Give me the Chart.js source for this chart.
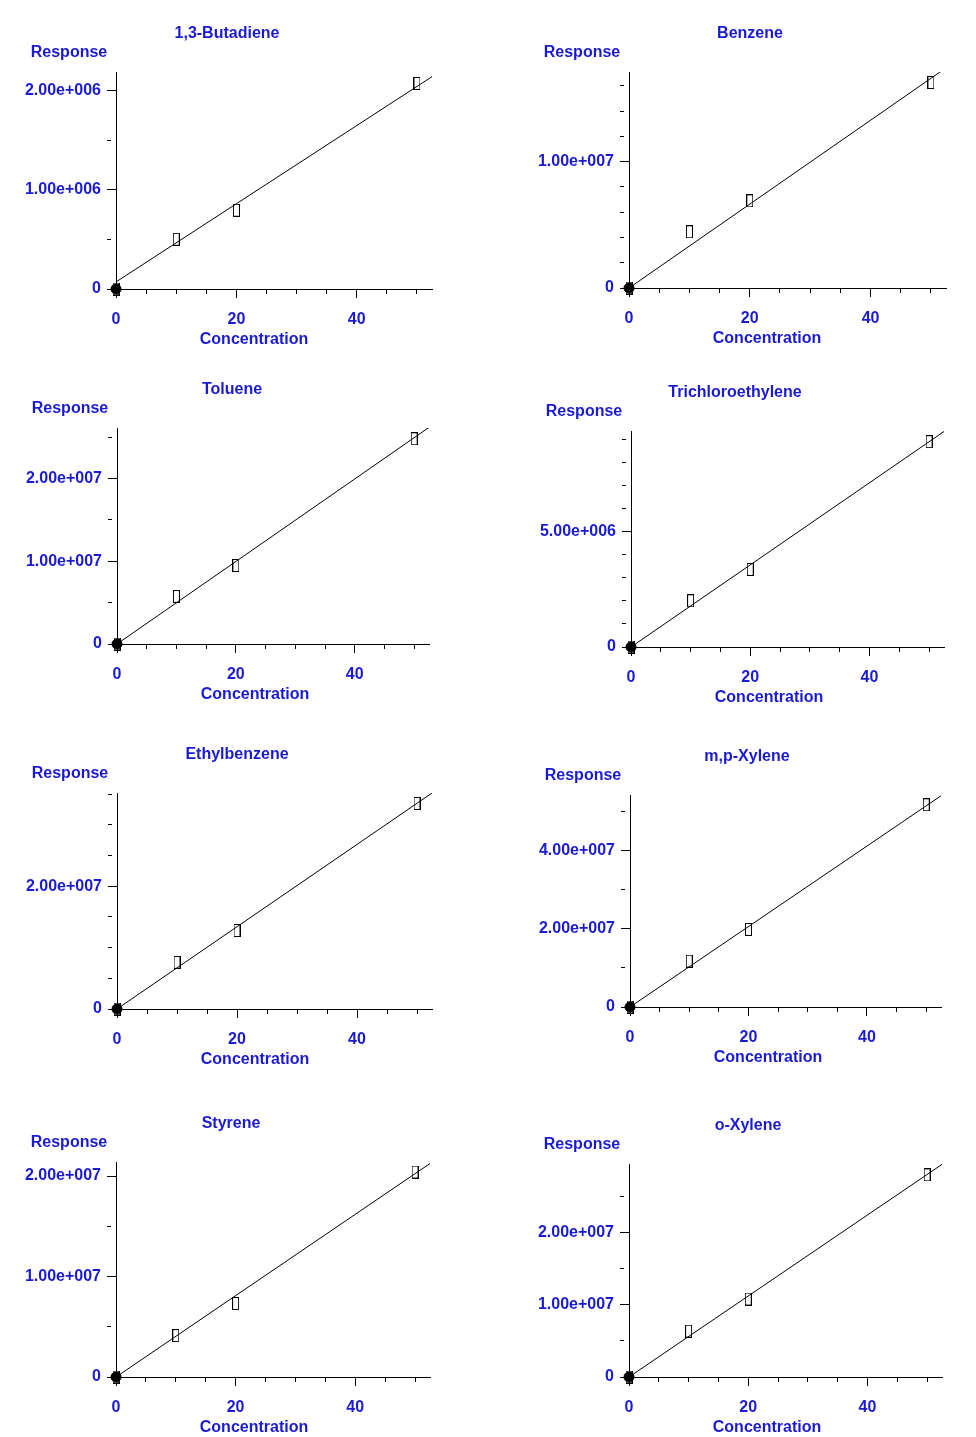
<!DOCTYPE html>
<html>
<head>
<meta charset="utf-8">
<script src="https://cdn.jsdelivr.net/npm/chart.js@4.4.0/dist/chart.umd.min.js"></script>
<style>
  body { margin: 0; background: #fff; }
  #page { position: relative; width: 976px; height: 1437px; overflow: hidden; background: #fff; }
  #page canvas { position: absolute; }
</style>
</head>
<body>
<div id="page"></div>
<script>
// Curvas de calibración: concentración vs respuesta
const compounds = ['1,3-Butadiene', 'Benzene', 'Toluene', 'Trichloroethylene',
                   'Ethylbenzene', 'm,p-Xylene', 'Styrene', 'o-Xylene'];
const concentrations = [0, 10, 20, 50];

const butadiene         = [0, 5.02e5, 7.95e5, 2.075e6];
const benzene           = [0, 4.45e6, 6.90e6, 1.627e7];
const toluene           = [0, 5.75e6, 9.49e6, 2.48e7];
const trichloroethylene = [0, 2.00e6, 3.36e6, 8.89e6];
const ethylbenzene      = [0, 7.6e6, 1.28e7, 3.35e7];
const mpXylene          = [0, 1.17e7, 1.98e7, 5.16e7];
const styrene           = [0, 4.12e6, 7.31e6, 2.04e7];
const oXylene           = [0, 6.35e6, 1.08e7, 2.80e7];
const responses = [butadiene, benzene, toluene, trichloroethylene,
                   ethylbenzene, mpXylene, styrene, oXylene];

// recta de ajuste: valor en x = 0 y al final del eje x
const fitAtZero = [7.1e4, 0, 0, 0, 0, 0, 0, 0];
const fitAtEnd  = [2.143e6, 1.743e7, 2.617e7, 9.33e6, 3.52e7, 5.39e7, 2.125e7, 2.945e7];

// ejes
const xAxisMax = 52.5;
const xTickStep = 5;
const xLabelStep = 20;
const yAxisMax   = [2.19e6, 1.71e7, 2.61e7, 9.35e6, 3.52e7, 5.41e7, 2.14e7, 2.95e7];
const yTickStep  = [5e5, 2e6, 5e6, 1e6, 5e6, 1e7, 5e6, 5e6];
const yLabelStep = [1e6, 1e7, 1e7, 5e6, 2e7, 2e7, 1e7, 1e7];

// posición de cada gráfico en la página: origen x, origen y, fin eje x, tope eje y, desplazamiento del título
const frames = [
  [116, 289, 432, 72, 111],
  [629, 288, 946, 72, 121],
  [117, 644, 429, 428, 115],
  [631, 647, 944, 431, 104],
  [117, 1009, 432, 793, 120],
  [630, 1007, 941, 795, 117],
  [116, 1377, 430, 1162, 115],
  [629, 1377, 942, 1164, 119]
];

const BLUE = '#1a1ad2';
const FONT = { family: 'Liberation Sans', size: 16, weight: 'bold' };
const PANEL_W = 488;
const TOP_SPACE = 60;
const BOTTOM_SPACE = 65;

const isMajor = (v, step) => Math.abs(v / step - Math.round(v / step)) < 1e-6;
const sci = v => v === 0 ? '0'
  : v.toExponential(2).replace(/e([+-])(\d+)/, (m, s, d) => 'e' + s + d.padStart(3, '0'));

// marcas cada "step" entre 0 y max (evita el redondeo de stepSize con valores grandes)
const stepTicks = (max, step) => {
  const out = [];
  for (let k = 0; k * step <= max * (1 + 1e-9); k++) out.push({ value: k * step });
  return out;
};

// marcador rectangular hueco
const box = document.createElement('canvas');
box.width = 7;
box.height = 13;
const bctx = box.getContext('2d');
bctx.strokeStyle = '#000';
bctx.lineWidth = 1;
bctx.strokeRect(0.5, 0.5, 6, 12);

const panelText = {
  id: 'panelText',
  afterDraw(chart, args, opts) {
    const { ctx, chartArea: a } = chart;
    ctx.save();
    ctx.font = 'bold 16px "Liberation Sans"';
    ctx.fillStyle = BLUE;
    ctx.textAlign = 'center';
    ctx.textBaseline = 'middle';
    ctx.fillText(opts.title, a.left + opts.titleDx, a.top - 38);
    ctx.fillText('Response', a.left - 47, a.top - 19);
    ctx.fillText('Concentration', a.left + 138, a.bottom + 51);
    ctx.restore();
  }
};

const page = document.getElementById('page');

compounds.forEach((name, i) => {
  const [ox, oy, xEnd, yTop, titleDx] = frames[i];
  const colLeft = i % 2 ? PANEL_W : 0;
  const canvas = document.createElement('canvas');
  canvas.width = PANEL_W;
  canvas.height = oy - yTop + TOP_SPACE + BOTTOM_SPACE;
  canvas.style.left = colLeft + 'px';
  canvas.style.top = (yTop - TOP_SPACE) + 'px';
  page.appendChild(canvas);

  const resp = responses[i];

  new Chart(canvas.getContext('2d'), {
    type: 'scatter',
    data: {
      datasets: [
        {
          label: 'origen',
          data: [{ x: concentrations[0], y: resp[0] }],
          pointStyle: 'circle',
          pointRadius: 5,
          backgroundColor: '#000',
          borderColor: '#000',
          clip: false
        },
        {
          label: 'estándares',
          data: concentrations.map((c, j) => ({ x: c, y: resp[j] })),
          pointStyle: box,
          pointRadius: 6,
          clip: false
        },
        {
          label: 'ajuste',
          data: [{ x: 0, y: fitAtZero[i] }, { x: xAxisMax, y: fitAtEnd[i] }],
          showLine: true,
          borderColor: '#000',
          borderWidth: 1,
          pointRadius: 0,
          clip: 0
        }
      ]
    },
    options: {
      responsive: false,
      animation: false,
      layout: { padding: { left: 0, top: TOP_SPACE, right: PANEL_W - (xEnd - colLeft), bottom: 0 } },
      plugins: {
        legend: { display: false },
        tooltip: { enabled: false },
        panelText: { title: name, titleDx: titleDx }
      },
      scales: {
        x: {
          type: 'linear',
          min: 0,
          max: xAxisMax,
          border: { color: '#000', width: 1 },
          grid: {
            drawOnChartArea: false,
            tickLength: 9,
            tickColor: '#000',
            tickBorderDash: c => (c.tick && isMajor(c.tick.value, xLabelStep)) ? [] : [4, 20]
          },
          ticks: {
            autoSkip: false,
            maxRotation: 0,
            padding: 12,
            color: BLUE,
            font: FONT,
            callback: v => isMajor(v, xLabelStep) ? String(v) : ''
          },
          afterBuildTicks: s => { s.ticks = stepTicks(xAxisMax, xTickStep); },
          afterFit: s => { s.height = BOTTOM_SPACE; }
        },
        y: {
          type: 'linear',
          min: 0,
          max: yAxisMax[i],
          border: { color: '#000', width: 1 },
          grid: {
            drawOnChartArea: false,
            tickLength: 9,
            tickColor: '#000',
            tickBorderDash: c => (c.tick && isMajor(c.tick.value, yLabelStep[i])) ? [] : [4, 20]
          },
          ticks: {
            autoSkip: false,
            padding: 6,
            color: BLUE,
            font: FONT,
            callback: v => isMajor(v, yLabelStep[i]) ? sci(v) : ''
          },
          afterBuildTicks: s => { s.ticks = stepTicks(yAxisMax[i], yTickStep[i]); },
          afterFit: s => { s.width = ox - colLeft; }
        }
      }
    },
    plugins: [panelText]
  });
});
</script>
</body>
</html>
